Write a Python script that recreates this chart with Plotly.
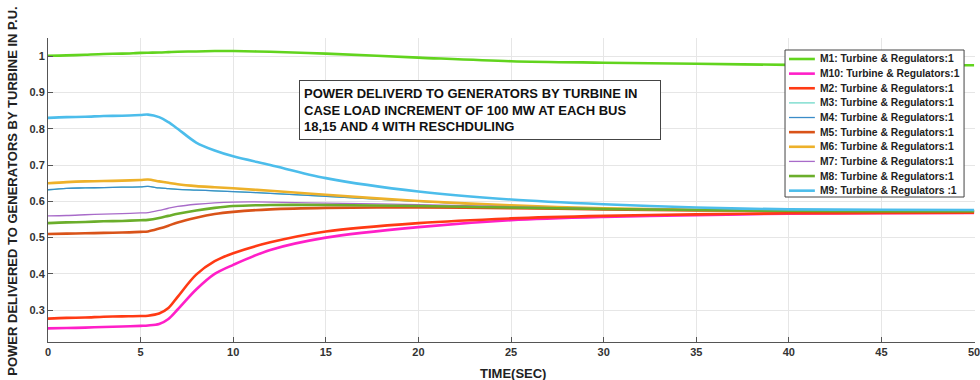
import plotly.graph_objects as go

# ---------------- data ----------------
time_s = [0, 1, 2, 3, 4, 5, 5.4, 6, 6.5, 7, 8, 9, 10, 12, 15, 20, 25, 30, 35, 40, 45, 50]

series_names = [
    "M1: Turbine & Regulators:1",
    "M10: Turbine & Regulators:1",
    "M2: Turbine & Regulators:1",
    "M3: Turbine & Regulators:1",
    "M4: Turbine & Regulators:1",
    "M5: Turbine & Regulators:1",
    "M6: Turbine & Regulators:1",
    "M7: Turbine & Regulators:1",
    "M8: Turbine & Regulators:1",
    "M9: Turbine & Regulators :1",
]

m1 = [1.001, 1.002, 1.004, 1.006, 1.007, 1.009, 1.0095, 1.010, 1.011, 1.012, 1.013, 1.014, 1.014, 1.012, 1.007, 0.996, 0.986, 0.982, 0.979, 0.976, 0.975, 0.975]
m10 = [0.250, 0.251, 0.252, 0.254, 0.255, 0.257, 0.258, 0.262, 0.276, 0.302, 0.357, 0.400, 0.425, 0.466, 0.500, 0.529, 0.548, 0.557, 0.562, 0.566, 0.567, 0.568]
m2 = [0.277, 0.279, 0.280, 0.282, 0.283, 0.284, 0.285, 0.291, 0.306, 0.337, 0.398, 0.435, 0.457, 0.487, 0.517, 0.540, 0.553, 0.560, 0.564, 0.567, 0.568, 0.569]
m3 = [0.632, 0.636, 0.637, 0.638, 0.639, 0.640, 0.641, 0.637, 0.635, 0.633, 0.631, 0.629, 0.627, 0.622, 0.614, 0.600, 0.588, 0.580, 0.576, 0.574, 0.573, 0.573]
m4 = [0.632, 0.636, 0.637, 0.638, 0.639, 0.640, 0.641, 0.637, 0.635, 0.633, 0.631, 0.629, 0.627, 0.622, 0.614, 0.600, 0.588, 0.580, 0.576, 0.574, 0.573, 0.573]
m5 = [0.510, 0.511, 0.512, 0.513, 0.514, 0.516, 0.517, 0.525, 0.533, 0.542, 0.555, 0.565, 0.571, 0.578, 0.582, 0.583, 0.581, 0.578, 0.575, 0.573, 0.572, 0.572]
m6 = [0.650, 0.653, 0.655, 0.656, 0.657, 0.659, 0.660, 0.655, 0.651, 0.647, 0.642, 0.639, 0.636, 0.629, 0.618, 0.601, 0.589, 0.581, 0.577, 0.575, 0.574, 0.574]
m7 = [0.560, 0.561, 0.563, 0.565, 0.566, 0.568, 0.569, 0.575, 0.581, 0.586, 0.592, 0.596, 0.598, 0.598, 0.595, 0.591, 0.585, 0.580, 0.577, 0.575, 0.574, 0.574]
m8 = [0.540, 0.542, 0.543, 0.545, 0.546, 0.548, 0.549, 0.554, 0.560, 0.566, 0.575, 0.582, 0.587, 0.590, 0.590, 0.587, 0.583, 0.579, 0.576, 0.574, 0.573, 0.573]
m9 = [0.830, 0.832, 0.833, 0.835, 0.836, 0.838, 0.839, 0.832, 0.818, 0.800, 0.762, 0.740, 0.724, 0.700, 0.664, 0.627, 0.605, 0.592, 0.583, 0.578, 0.577, 0.576]

series_values = [m1, m10, m2, m3, m4, m5, m6, m7, m8, m9]

x_ticks = [0, 5, 10, 15, 20, 25, 30, 35, 40, 45, 50]
y_ticks = [0.3, 0.4, 0.5, 0.6, 0.7, 0.8, 0.9, 1.0]
y_tick_labels = ["0.3", "0.4", "0.5", "0.6", "0.7", "0.8", "0.9", "1"]

# ---------------- styles ----------------
colors = ["#62D41E", "#FF1FC8", "#FF3A14", "#6FD9C9", "#3B8CC8",
          "#D95319", "#EDB12A", "#A86BC9", "#6BAE2B", "#4CBDEB"]
widths = [2.6, 2.6, 2.6, 1.3, 1.3, 2.6, 2.6, 1.3, 2.6, 2.6]

FONT = "Liberation Sans, Arial, sans-serif"
W, H = 980, 380
L, R, T, B = 48, 0, 38, 38
PW, PH = W - L - R, H - T - B


def px_x(x):
    return (x - L) / PW


def px_y(y):
    return (H - B - y) / PH


fig = go.Figure()
for name, vals, c, w in zip(series_names, series_values, colors, widths):
    fig.add_trace(go.Scatter(x=time_s, y=vals, mode="lines", name=name,
                             line=dict(color=c, width=w, shape="spline", smoothing=0.9),
                             showlegend=False))

fig.update_layout(
    width=W, height=H,
    margin=dict(l=L, r=R, t=T, b=B),
    paper_bgcolor="white", plot_bgcolor="white",
    font=dict(family=FONT, color="#333333"),
)
fig.update_xaxes(range=[0, 50.05], tickvals=x_ticks, ticks="inside", ticklen=5,
                 ticklabeloverflow="allow",
                 tickcolor="#555555", showline=True, linecolor="#555555", linewidth=1,
                 showgrid=True, gridcolor="#E6E6E6", gridwidth=1, zeroline=False,
                 tickfont=dict(family=FONT, size=11, color="#333333", weight="bold"))
fig.update_yaxes(range=[0.2125, 1.05], tickvals=y_ticks, ticktext=y_tick_labels,
                 ticks="inside", ticklen=5, tickcolor="#555555",
                 showline=True, linecolor="#555555", linewidth=1,
                 showgrid=True, gridcolor="#E6E6E6", gridwidth=1, zeroline=False,
                 tickfont=dict(family=FONT, size=11, color="#333333", weight="bold"))

annotations = []
shapes = []

# axis titles
annotations.append(dict(text="TIME(SEC)", xref="paper", yref="paper",
                        x=px_x(516), y=px_y(373), xanchor="center", yanchor="middle",
                        showarrow=False,
                        font=dict(family=FONT, size=13, color="#222222", weight="bold")))
annotations.append(dict(text="POWER DELIVERED TO GENERATORS BY TURBINE IN P.U.",
                        xref="paper", yref="paper", textangle=-90,
                        x=px_x(12), y=px_y(378), xanchor="center", yanchor="bottom",
                        showarrow=False,
                        font=dict(family=FONT, size=13, color="#222222", weight="bold")))

# text box
annotations.append(dict(
    text="POWER DELIVERD TO GENERATORS BY TURBINE IN<br>CASE LOAD INCREMENT OF 100 MW AT EACH BUS<br>18,15 AND 4 WITH RESCHDULING",
    xref="paper", yref="paper", x=px_x(300), y=px_y(80), xanchor="left", yanchor="top",
    align="left", valign="middle", showarrow=False, width=352, height=50,
    bgcolor="white", bordercolor="#444444", borderwidth=1, borderpad=4,
    font=dict(family=FONT, size=13, color="#111111", weight="bold")))

# custom legend
shapes.append(dict(type="rect", xref="paper", yref="paper",
                   x0=px_x(789), x1=px_x(969), y0=px_y(197), y1=px_y(50),
                   fillcolor="white", line=dict(color="#444444", width=1), layer="above"))
for i, (name, c, w) in enumerate(zip(series_names, colors, widths)):
    yc = 59 + 14.63 * i
    shapes.append(dict(type="line", xref="paper", yref="paper",
                       x0=px_x(793), x1=px_x(819), y0=px_y(yc), y1=px_y(yc),
                       line=dict(color=c, width=w), layer="above"))
    annotations.append(dict(text=name, xref="paper", yref="paper",
                            x=px_x(822), y=px_y(yc), xanchor="left", yanchor="middle",
                            showarrow=False,
                            font=dict(family=FONT, size=10.3, color="#222222", weight="bold")))

fig.update_layout(annotations=annotations, shapes=shapes)
fig.write_html("out.html")
